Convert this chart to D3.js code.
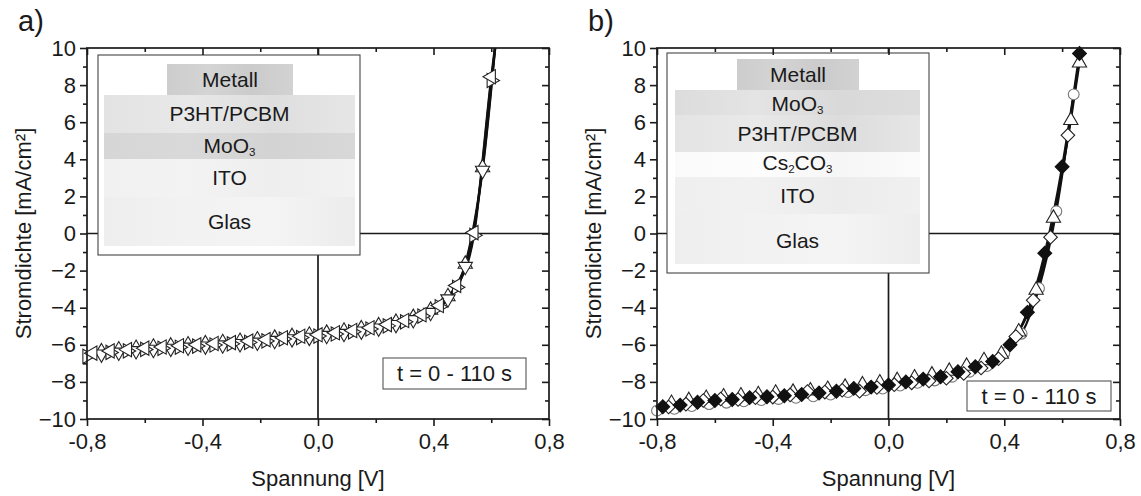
<!DOCTYPE html>
<html><head><meta charset="utf-8">
<script src="https://cdn.jsdelivr.net/npm/d3@7"></script>
<style>
body{margin:0;background:#fff}
svg{display:block}
text{font-family:"Liberation Sans",Arial,sans-serif;fill:#1a1a1a}
</style>
</head><body>
<svg id="c" width="1141" height="496"></svg>
<script>
// ---------------- DATA ----------------
const xMajorTicks = [-0.8, -0.4, 0.0, 0.4, 0.8];
const xTickLabels = ["-0,8", "-0,4", "0,0", "0,4", "0,8"];
const xMinorTicks = [-0.6, -0.2, 0.2, 0.6];
const yMajorTicks = [-10, -8, -6, -4, -2, 0, 2, 4, 6, 8, 10];
const yMinorTicks = [-9, -7, -5, -3, -1, 1, 3, 5, 7, 9];
const xTitle = "Spannung [V]";
const yTitle = "Stromdichte [mA/cm²]";
const boxText = "t = 0 - 110 s";
const panelLetters = ["a)", "b)"];

// Panel a: layer stack (top to bottom)
const layersA = ["Metall", "P3HT/PCBM", "MoO|3", "ITO", "Glas"];
// Panel b: layer stack (top to bottom)
const layersB = ["Metall", "MoO|3", "P3HT/PCBM", "Cs|2|CO|3", "ITO", "Glas"];

// Panel a series (voltage V, current density mA/cm²)
const aLeftV  = [-0.78,-0.72,-0.66,-0.60,-0.54,-0.48,-0.42,-0.36,-0.30,-0.24,-0.18,-0.12,-0.06,0.00,0.06,0.12,0.18,0.24,0.30,0.36,0.42,0.48,0.54,0.60,0.66];
const aLeftJ  = [-6.45,-6.33,-6.26,-6.18,-6.12,-6.05,-6.00,-5.93,-5.88,-5.80,-5.72,-5.62,-5.54,-5.46,-5.35,-5.23,-5.08,-4.91,-4.69,-4.38,-3.88,-2.80,0.05,8.45,16.0];
const aRightV = [-0.80,-0.72,-0.66,-0.60,-0.54,-0.48,-0.42,-0.36,-0.30,-0.24,-0.18,-0.12,-0.06,0.00,0.06,0.12,0.18,0.24,0.30,0.36,0.42,0.48,0.54,0.60,0.66];
const aRightJ = [-6.62,-6.41,-6.33,-6.25,-6.19,-6.13,-6.07,-6.01,-5.95,-5.87,-5.79,-5.69,-5.61,-5.53,-5.42,-5.30,-5.15,-4.98,-4.76,-4.45,-3.95,-2.90,-0.10,8.25,15.8];
const aUpV    = [-0.75,-0.69,-0.63,-0.57,-0.51,-0.45,-0.39,-0.33,-0.27,-0.21,-0.15,-0.09,-0.03,0.03,0.09,0.15,0.21,0.27,0.33,0.39,0.45,0.51,0.57,0.63];
const aUpJ    = [-6.37,-6.27,-6.19,-6.12,-6.06,-6.00,-5.94,-5.88,-5.81,-5.73,-5.64,-5.55,-5.47,-5.37,-5.26,-5.13,-4.97,-4.78,-4.52,-4.13,-3.40,-1.65,3.55,13.0];
const aDownV  = [-0.75,-0.69,-0.63,-0.57,-0.51,-0.45,-0.39,-0.33,-0.27,-0.21,-0.15,-0.09,-0.03,0.03,0.09,0.15,0.21,0.27,0.33,0.39,0.45,0.51,0.57,0.63];
const aDownJ  = [-6.50,-6.40,-6.32,-6.25,-6.19,-6.13,-6.07,-6.01,-5.94,-5.86,-5.77,-5.68,-5.60,-5.50,-5.39,-5.26,-5.10,-4.91,-4.65,-4.26,-3.53,-1.78,3.40,12.8];

// Panel b series
const bFillV  = [-0.78,-0.72,-0.66,-0.60,-0.54,-0.48,-0.42,-0.36,-0.30,-0.24,-0.18,-0.12,-0.06,0.00,0.06,0.12,0.18,0.24,0.30,0.36,0.42,0.48,0.54,0.60,0.66];
const bFillJ  = [-9.34,-9.25,-9.10,-9.00,-8.95,-8.85,-8.80,-8.75,-8.68,-8.60,-8.50,-8.35,-8.28,-8.17,-8.00,-7.85,-7.72,-7.45,-7.18,-6.90,-6.00,-4.25,-1.06,3.60,9.70];
const bTriV   = [-0.75,-0.69,-0.63,-0.57,-0.51,-0.45,-0.39,-0.33,-0.27,-0.21,-0.15,-0.09,-0.03,0.03,0.09,0.15,0.21,0.27,0.33,0.39,0.45,0.51,0.57,0.63,0.66];
const bTriJ   = [-9.15,-9.00,-8.88,-8.80,-8.75,-8.68,-8.60,-8.55,-8.48,-8.40,-8.28,-8.15,-8.05,-7.92,-7.78,-7.62,-7.42,-7.15,-6.85,-6.50,-5.30,-3.05,0.83,6.10,9.20];
const bCircV  = [-0.80,-0.74,-0.68,-0.62,-0.56,-0.50,-0.44,-0.38,-0.32,-0.26,-0.20,-0.14,-0.08,-0.02,0.04,0.10,0.16,0.22,0.28,0.34,0.40,0.46,0.52,0.58,0.64];
const bCircJ  = [-9.55,-9.45,-9.30,-9.20,-9.12,-9.05,-8.98,-8.92,-8.86,-8.78,-8.68,-8.55,-8.45,-8.36,-8.20,-8.05,-7.92,-7.72,-7.45,-7.15,-6.45,-5.40,-2.95,1.20,7.50];
const bOpenV  = [-0.76,-0.70,-0.64,-0.58,-0.52,-0.46,-0.40,-0.34,-0.28,-0.22,-0.16,-0.10,-0.04,0.02,0.08,0.14,0.20,0.26,0.32,0.38,0.44,0.50,0.56,0.62,0.68];
const bOpenJ  = [-9.35,-9.20,-9.00,-8.92,-8.95,-8.85,-8.82,-8.70,-8.52,-8.55,-8.45,-8.50,-8.30,-8.15,-8.05,-7.95,-7.80,-7.55,-7.25,-6.75,-5.55,-3.60,-0.20,5.30,11.5];

// ---------------- LAYOUT ----------------
const svg = d3.select("#c");
const defs = svg.append("defs");
const yTop = 48, yBot = 419;
const FS = 22;

function zip(V, J){ return V.map((v,i)=>({v, j:J[i]})); }

function grad(id, stops){
  const g = defs.append("linearGradient").attr("id", id).attr("x1","0%").attr("x2","100%").attr("y1","0%").attr("y2","0%");
  stops.forEach((c,i)=> g.append("stop").attr("offset", (i/(stops.length-1)*100)+"%").attr("stop-color", c));
  return "url(#"+id+")";
}

function labelText(sel, name, fs){
  const parts = name.split("|");
  parts.forEach((p,i)=>{
    if(i%2===0){ sel.append("tspan").attr("font-size", fs).text(p); }
    else { sel.append("tspan").attr("font-size", fs*0.55).attr("baseline-shift","-28%").text(p); }
  });
}

const triSym = d3.symbol().type(d3.symbolTriangle).size(88)();
const sqSym  = d3.symbol().type(d3.symbolSquare).size(96)();
const circSym= d3.symbol().type(d3.symbolCircle).size(92)();
const dSqSym = d3.symbol().type(d3.symbolSquare).size(92)();

function panel(cfg){
  const x = d3.scaleLinear().domain([-0.8, 0.8]).range([cfg.x0, cfg.x1]);
  const y = d3.scaleLinear().domain([-10, 10]).range([yBot, yTop]);
  const g = svg.append("g");
  const clipId = "clip"+cfg.id;
  defs.append("clipPath").attr("id", clipId).append("rect")
    .attr("x", cfg.x0).attr("y", yTop).attr("width", cfg.x1-cfg.x0).attr("height", yBot-yTop);

  // zero lines
  g.append("line").attr("x1", cfg.x0).attr("x2", cfg.x1).attr("y1", y(0)).attr("y2", y(0))
    .attr("stroke","#1a1a1a").attr("stroke-width",1.7);
  g.append("line").attr("x1", x(0)).attr("x2", x(0)).attr("y1", yTop).attr("y2", yBot)
    .attr("stroke","#1a1a1a").attr("stroke-width",1.7);

  // inset
  const ins = cfg.inset;
  const ig = g.append("g");
  ig.append("rect").attr("x", ins.x).attr("y", ins.y).attr("width", ins.w).attr("height", ins.h)
    .attr("fill","#fff").attr("stroke","#444").attr("stroke-width",1.1);
  cfg.layers.forEach((name, i)=>{
    const L = ins.rects[i];
    ig.append("rect").attr("x", L[0]).attr("y", L[1]).attr("width", L[2]-L[0]).attr("height", L[3]-L[1])
      .attr("fill", grad(cfg.id+"g"+i, ins.colors[i]));
    const t = ig.append("text").attr("x", (L[0]+L[2])/2).attr("y", ins.textY[i]).attr("text-anchor","middle")
      .attr("font-size", 21);
    labelText(t, name, 21);
  });

  // data lines
  const line = d3.line().x(d=>x(d.v)).y(d=>y(d.j)).curve(d3.curveMonotoneX);
  const dg = g.append("g").attr("clip-path","url(#"+clipId+")");
  cfg.series.forEach(s=>{
    dg.append("path").datum(s.data).attr("d", line).attr("fill","none")
      .attr("stroke","#111").attr("stroke-width",2.2);
  });
  cfg.series.forEach(s=>{
    g.append("g").selectAll("path").data(s.data.filter(d=>d.j<=10.1)).join("path")
      .attr("d", s.sym)
      .attr("transform", d=>`translate(${x(d.v)},${y(d.j)}) rotate(${s.rot})`)
      .attr("fill", s.fill).attr("stroke", s.stroke).attr("stroke-width", 1.1);
  });

  // frame
  g.append("rect").attr("x", cfg.x0).attr("y", yTop).attr("width", cfg.x1-cfg.x0).attr("height", yBot-yTop)
    .attr("fill","none").attr("stroke","#1a1a1a").attr("stroke-width",1.7);

  const styleAx = a => { a.selectAll("line").attr("stroke","#1a1a1a").attr("stroke-width",1.6);
    a.select(".domain").remove(); a.selectAll("text").attr("font-size", FS).attr("fill","#1a1a1a")
      .attr("font-family","Liberation Sans, Arial, sans-serif"); };

  // bottom (outward)
  styleAx(g.append("g").attr("transform",`translate(0,${yBot})`)
    .call(d3.axisBottom(x).tickValues(xMajorTicks).tickSize(7).tickPadding(7).tickFormat((d,i)=>xTickLabels[i])));
  styleAx(g.append("g").attr("transform",`translate(0,${yBot})`)
    .call(d3.axisBottom(x).tickValues(xMinorTicks).tickSize(4).tickFormat("")));
  // top (inward)
  styleAx(g.append("g").attr("transform",`translate(0,${yTop})`)
    .call(d3.axisBottom(x).tickValues(xMajorTicks).tickSize(7).tickFormat("")));
  styleAx(g.append("g").attr("transform",`translate(0,${yTop})`)
    .call(d3.axisBottom(x).tickValues(xMinorTicks).tickSize(4).tickFormat("")));
  // left (outward)
  styleAx(g.append("g").attr("transform",`translate(${cfg.x0},0)`)
    .call(d3.axisLeft(y).tickValues(yMajorTicks).tickSize(7).tickPadding(4).tickFormat(d3.format("d"))));
  styleAx(g.append("g").attr("transform",`translate(${cfg.x0},0)`)
    .call(d3.axisLeft(y).tickValues(yMinorTicks).tickSize(4).tickFormat("")));
  // right (inward)
  styleAx(g.append("g").attr("transform",`translate(${cfg.x1},0)`)
    .call(d3.axisLeft(y).tickValues(yMajorTicks).tickSize(7).tickFormat("")));
  styleAx(g.append("g").attr("transform",`translate(${cfg.x1},0)`)
    .call(d3.axisLeft(y).tickValues(yMinorTicks).tickSize(4).tickFormat("")));

  // t-box
  const b = cfg.box;
  g.append("rect").attr("x", b.x).attr("y", b.y).attr("width", b.w).attr("height", b.h)
    .attr("fill","#fff").attr("stroke","#555").attr("stroke-width",1.1);
  g.append("text").attr("x", b.x+b.w/2).attr("y", b.y+b.h/2).attr("dy","0.35em")
    .attr("text-anchor","middle").attr("font-size", FS).text(boxText);

  // titles
  g.append("text").attr("x", (cfg.x0+cfg.x1)/2).attr("y", 486).attr("text-anchor","middle")
    .attr("font-size", FS).text(xTitle);
  g.append("text").attr("transform",`translate(${cfg.x0-56},${(yTop+yBot)/2}) rotate(-90)`)
    .attr("text-anchor","middle").attr("font-size", FS).text(yTitle);
  g.append("text").attr("x", cfg.x0-69).attr("y", 31).attr("font-size", 29).text(cfg.letter);
}

const openTri = (data, rot) => ({data, sym: triSym, rot, fill:"#fff", stroke:"#222"});

panel({
  id:"a", x0:87, x1:549, letter: panelLetters[0], layers: layersA,
  inset:{ x:98, y:55, w:262, h:200,
    rects:[[167,64,293,95],[104,95,355,133],[104,133,355,159],[104,159,355,197],[104,197,355,246]],
    textY:[87,121,153,185,229],
    colors:[["#cdcdcd","#d4d4d4","#cbcbcb","#d2d2d2"],
            ["#e3e3e3","#e8e8e8","#dedede","#e6e6e6"],
            ["#d6d6d6","#d9d9d9","#d3d3d3","#d8d8d8"],
            ["#f1f1f1","#f3f3f3","#eeeeee","#f2f2f2"],
            ["#eeeeee","#f2f2f2","#f4f4f4","#ececec"]]},
  box:{x:383, y:358, w:143, h:31},
  series:[ openTri(zip(aUpV,aUpJ),0), openTri(zip(aDownV,aDownJ),180),
           openTri(zip(aRightV,aRightJ),90), openTri(zip(aLeftV,aLeftJ),-90) ]
});

panel({
  id:"b", x0:657, x1:1120, letter: panelLetters[1], layers: layersB,
  inset:{ x:667, y:53, w:262, h:220,
    rects:[[737,59,859,90],[675,90,920,115],[675,115,920,152],[675,152,920,177],[675,177,920,214],[675,214,920,264]],
    textY:[82,111,141,170,203,248],
    colors:[["#cdcdcd","#d4d4d4","#cbcbcb","#d2d2d2"],
            ["#dcdcdc","#e4e4e4","#d9d9d9","#dddddd"],
            ["#e4e4e4","#e9e9e9","#dcdcdc","#e6e6e6"],
            ["#fafafa","#fdfdfd","#f6f6f6","#fbfbfb"],
            ["#efefef","#f1f1f1","#ececec","#f0f0f0"],
            ["#eeeeee","#f2f2f2","#f4f4f4","#ededed"]]},
  box:{x:967, y:381, w:144, h:30},
  series:[ {data:zip(bCircV,bCircJ), sym:circSym, rot:0, fill:"#fff", stroke:"#777"},
           openTri(zip(bTriV,bTriJ),0),
           {data:zip(bOpenV,bOpenJ), sym:dSqSym, rot:45, fill:"#fff", stroke:"#222"},
           {data:zip(bFillV,bFillJ), sym:sqSym, rot:45, fill:"#111", stroke:"#111"} ]
});
</script>
</body></html>
